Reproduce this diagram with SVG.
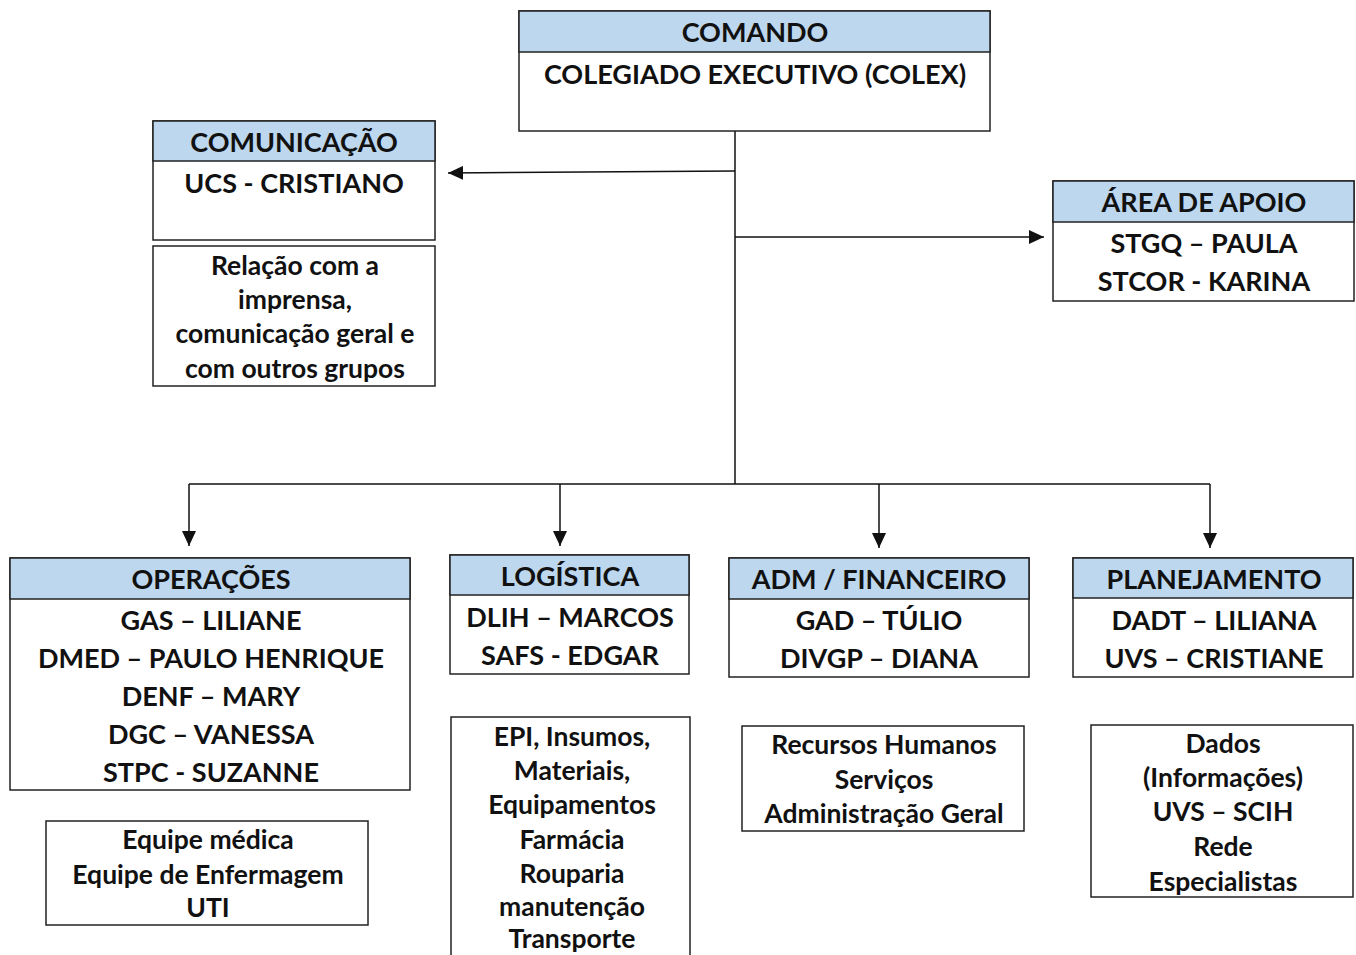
<svg xmlns="http://www.w3.org/2000/svg" width="1356" height="955" viewBox="0 0 1356 955">
<style>
.box{fill:#fff;stroke:#222;stroke-width:1.5}
.hdr{fill:#BDD7EE;stroke:#222;stroke-width:1.5}
text{font-family:Lato,"Open Sans","Liberation Sans",sans-serif;font-weight:bold;text-anchor:middle;fill:#111}
.h{font-size:27px}
.d{font-size:26.5px}
.con{stroke:#111;stroke-width:1.5;fill:none}
</style>
<defs>
<marker id="ah" markerUnits="userSpaceOnUse" markerWidth="16" markerHeight="14" refX="15" refY="7" orient="auto">
<path d="M0,0 L15,7 L0,14 Z" fill="#111"/>
</marker>
</defs>
<rect width="1356" height="955" fill="#fff"/>
<g id="connectors">
<line class="con" x1="735" y1="131" x2="735" y2="484"/>
<line class="con" x1="735" y1="171" x2="448" y2="173" marker-end="url(#ah)"/>
<line class="con" x1="735" y1="237" x2="1044" y2="237" marker-end="url(#ah)"/>
<line class="con" x1="189" y1="484" x2="1210" y2="484"/>
<line class="con" x1="189" y1="484" x2="189" y2="546" marker-end="url(#ah)"/>
<line class="con" x1="560" y1="484" x2="560" y2="546" marker-end="url(#ah)"/>
<line class="con" x1="879" y1="484" x2="879" y2="548" marker-end="url(#ah)"/>
<line class="con" x1="1210" y1="484" x2="1210" y2="548" marker-end="url(#ah)"/>
</g>
<g id="comando">
<rect class="box" x="519" y="11" width="471" height="120"/>
<rect class="hdr" x="519" y="11" width="471" height="41"/>
<text class="h" x="755" y="42">COMANDO</text>
<text class="h" x="755" y="84">COLEGIADO EXECUTIVO (COLEX)</text>
</g>
<g id="comunicacao">
<rect class="box" x="153" y="121" width="282" height="119"/>
<rect class="hdr" x="153" y="121" width="282" height="40"/>
<text class="h" x="294" y="152">COMUNICAÇÃO</text>
<text class="h" x="294" y="193">UCS - CRISTIANO</text>
</g>
<g id="comunicacao-desc">
<rect class="box" x="153" y="246" width="282" height="140"/>
<text class="d" x="295" y="275">Relação com a</text>
<text class="d" x="295" y="309">imprensa,</text>
<text class="d" x="295" y="343">comunicação geral e</text>
<text class="d" x="295" y="378">com outros grupos</text>
</g>
<g id="area-apoio">
<rect class="box" x="1053" y="181" width="301" height="120"/>
<rect class="hdr" x="1053" y="181" width="301" height="41"/>
<text class="h" x="1204" y="212">ÁREA DE APOIO</text>
<text class="h" x="1204" y="253">STGQ – PAULA</text>
<text class="h" x="1204" y="291">STCOR - KARINA</text>
</g>
<g id="operacoes">
<rect class="box" x="10" y="558" width="400" height="232"/>
<rect class="hdr" x="10" y="558" width="400" height="41"/>
<text class="h" x="211" y="589">OPERAÇÕES</text>
<text class="h" x="211" y="630">GAS – LILIANE</text>
<text class="h" x="211" y="668">DMED – PAULO HENRIQUE</text>
<text class="h" x="211" y="706">DENF – MARY</text>
<text class="h" x="211" y="744">DGC – VANESSA</text>
<text class="h" x="211" y="782">STPC - SUZANNE</text>
</g>
<g id="operacoes-desc">
<rect class="box" x="46" y="821" width="322" height="104"/>
<text class="d" x="208" y="849">Equipe médica</text>
<text class="d" x="208" y="884">Equipe de Enfermagem</text>
<text class="d" x="208" y="917">UTI</text>
</g>
<g id="logistica">
<rect class="box" x="450" y="555" width="239" height="119"/>
<rect class="hdr" x="450" y="555" width="239" height="40"/>
<text class="h" x="570" y="586">LOGÍSTICA</text>
<text class="h" x="570" y="627">DLIH – MARCOS</text>
<text class="h" x="570" y="665">SAFS - EDGAR</text>
</g>
<g id="logistica-desc">
<rect class="box" x="451" y="717" width="239" height="250"/>
<text class="d" x="572" y="746">EPI, Insumos,</text>
<text class="d" x="572" y="780">Materiais,</text>
<text class="d" x="572" y="814">Equipamentos</text>
<text class="d" x="572" y="849">Farmácia</text>
<text class="d" x="572" y="883">Rouparia</text>
<text class="d" x="572" y="916">manutenção</text>
<text class="d" x="572" y="948">Transporte</text>
</g>
<g id="adm-financeiro">
<rect class="box" x="729" y="558" width="300" height="119"/>
<rect class="hdr" x="729" y="558" width="300" height="41"/>
<text class="h" x="879" y="589">ADM / FINANCEIRO</text>
<text class="h" x="879" y="630">GAD – TÚLIO</text>
<text class="h" x="879" y="668">DIVGP – DIANA</text>
</g>
<g id="adm-desc">
<rect class="box" x="742" y="726" width="282" height="105"/>
<text class="d" x="884" y="754">Recursos Humanos</text>
<text class="d" x="884" y="789">Serviços</text>
<text class="d" x="884" y="823">Administração Geral</text>
</g>
<g id="planejamento">
<rect class="box" x="1073" y="558" width="280" height="119"/>
<rect class="hdr" x="1073" y="558" width="280" height="40"/>
<text class="h" x="1214" y="589">PLANEJAMENTO</text>
<text class="h" x="1214" y="630">DADT – LILIANA</text>
<text class="h" x="1214" y="668">UVS – CRISTIANE</text>
</g>
<g id="planejamento-desc">
<rect class="box" x="1091" y="725" width="262" height="172"/>
<text class="d" x="1223" y="753">Dados</text>
<text class="d" x="1223" y="787">(Informações)</text>
<text class="d" x="1223" y="821">UVS – SCIH</text>
<text class="d" x="1223" y="856">Rede</text>
<text class="d" x="1223" y="891">Especialistas</text>
</g>
</svg>
